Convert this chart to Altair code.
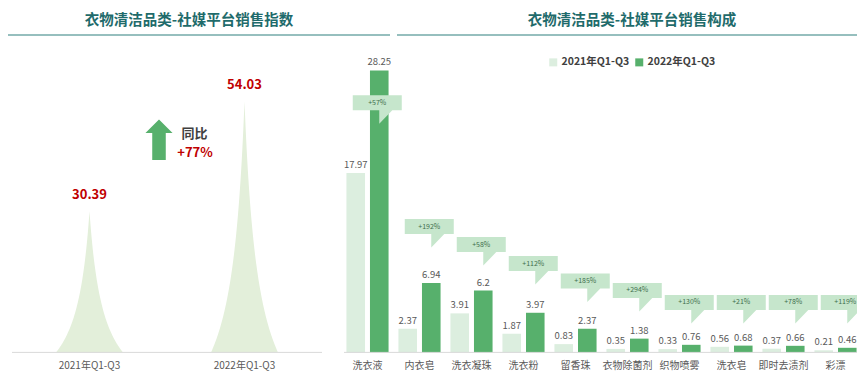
import altair as alt
import pandas as pd

# ---------------- data ----------------
periods = ["2021年Q1-Q3", "2022年Q1-Q3"]
index_values = [30.39, 54.03]
yoy_label = "+77%"

categories = ["洗衣液", "内衣皂", "洗衣凝珠", "洗衣粉", "留香珠",
              "衣物除菌剂", "织物喷雾", "洗衣皂", "即时去渍剂", "彩漂"]
sales_2021 = [17.97, 2.37, 3.91, 1.87, 0.83, 0.35, 0.33, 0.56, 0.37, 0.21]
sales_2022 = [28.25, 6.94, 6.2, 3.97, 2.37, 1.38, 0.76, 0.68, 0.66, 0.46]
growth_labels = ["+57%", "+192%", "+58%", "+112%", "+185%",
                 "+294%", "+130%", "+21%", "+78%", "+119%"]
callout_levels = [22.9, 10.5, 8.7, 6.8, 5.05, 4.1, 2.9, 2.9, 2.9, 2.9]

left_title = "衣物清洁品类-社媒平台销售指数"
right_title = "衣物清洁品类-社媒平台销售构成"

# ---------------- styling ----------------
FONT = "Noto Sans CJK SC"
W, H = 849, 364
TEAL_TEXT = "#1f6b6b"
TEAL_LINE = "#73aaa8"
RED = "#c00000"
LIGHT = "#dceedf"
DARK = "#57b06c"
SPIKE = "#e3efda"
CALLOUT = "#c6e6cc"
GREY = "#595959"
BASE = "#d9d9d9"
BASE_Y = 344.4
LABEL_Y = 358

# ---------------- left panel (spike shapes) ----------------
HW = 0.216   # half base width in category units
K = 2.4      # concavity of the spike sides
steps = 60
rows = []
for i, (p, v) in enumerate(zip(periods, index_values)):
    for side in (-1, 1):
        for s in range(steps + 1):
            u = s / steps
            rows.append({"period": p, "x": i + side * u * HW,
                         "y": v * (1 - u) / (1 + K * u)})
spike_df = pd.DataFrame(rows)
left_df = pd.DataFrame({"period": periods, "idx": list(range(len(periods))),
                        "value": index_values})

LPX = 4.646  # px per index point
lx_scale = alt.Scale(domain=[-0.5258, -0.5258 + W / 155.0], nice=False, zero=False)
ly_scale = alt.Scale(domain=[-(H - BASE_Y) / LPX, BASE_Y / LPX], nice=False, zero=False)

spikes = alt.Chart(spike_df).mark_area(color=SPIKE, opacity=1).encode(
    x=alt.X("x:Q", scale=lx_scale, axis=None),
    y=alt.Y("y:Q", scale=ly_scale, axis=None),
    y2=alt.datum(0),
    detail="period:N",
)
left_base = alt.Chart(pd.DataFrame({"a": [-0.5], "b": [len(periods) - 0.5]})).mark_rule(
    color=BASE, strokeWidth=1
).encode(x=alt.X("a:Q", scale=lx_scale, axis=None), x2="b:Q",
         y=alt.Y("z:Q", scale=ly_scale, axis=None)).transform_calculate(z="0")
left_vals = alt.Chart(left_df).mark_text(
    font=FONT, fontSize=13, fontWeight="bold", color=RED, baseline="bottom", dy=-9
).encode(x=alt.X("idx:Q", scale=lx_scale, axis=None),
         y=alt.Y("value:Q", scale=ly_scale, axis=None),
         text="value:N")
left_cats = alt.Chart(left_df).mark_text(
    font=FONT, fontSize=10, color=GREY, baseline="middle"
).encode(x=alt.X("idx:Q", scale=lx_scale, axis=None),
         y=alt.value(LABEL_Y), text="period:N")
left = alt.layer(spikes, left_base, left_vals, left_cats)

# ---------------- right panel (grouped bars) ----------------
bar_df = pd.DataFrame({
    "cat": categories * 2,
    "series": [periods[0]] * len(categories) + [periods[1]] * len(categories),
    "value": sales_2021 + sales_2022,
})
call_df = pd.DataFrame({"cat": categories, "series": [periods[1]] * len(categories),
                        "level": callout_levels, "label": growth_labels})

RPX = 9.982  # px per sales unit
rx_scale = alt.Scale(domain=categories, range=[333.5, 853.5], paddingInner=0, paddingOuter=0)
rxo_scale = alt.Scale(domain=periods, paddingInner=0.21, paddingOuter=0.21)
ry_scale = alt.Scale(domain=[-(H - BASE_Y) / RPX, BASE_Y / RPX], nice=False, zero=False)

rx = alt.X("cat:N", scale=rx_scale, axis=None, sort=categories)
rxo = alt.XOffset("series:N", scale=rxo_scale, sort=periods)

bars = alt.Chart(bar_df).mark_bar().encode(
    x=rx, xOffset=rxo,
    y=alt.Y("value:Q", scale=ry_scale, axis=None),
    color=alt.Color("series:N", scale=alt.Scale(domain=periods, range=[LIGHT, DARK]),
                    legend=alt.Legend(title=None)),
)
bar_vals = alt.Chart(bar_df).mark_text(
    font=FONT, fontSize=9.5, color=GREY, baseline="bottom", dy=-3
).encode(x=rx, xOffset=rxo, y=alt.Y("value:Q", scale=ry_scale, axis=None),
         text="value:N")

CALLOUT_PATH = ("M0,0 L0,-0.54 L-1.06,-0.54 L-1.06,-1.14 L0.90,-1.14 "
                "L0.90,-0.54 L0.52,-0.54 Z")
callouts = alt.Chart(call_df).mark_point(
    shape=CALLOUT_PATH, size=2500, filled=True, color=CALLOUT, opacity=1, strokeWidth=0
).encode(x=rx, xOffset=rxo, y=alt.Y("level:Q", scale=ry_scale, axis=None))
call_text = alt.Chart(call_df).mark_text(
    font=FONT, fontSize=7, color="#3f6e4c", baseline="middle", dx=-2, dy=-21
).encode(x=rx, xOffset=rxo, y=alt.Y("level:Q", scale=ry_scale, axis=None),
         text="label:N")
right_cats = alt.Chart(pd.DataFrame({"cat": categories})).mark_text(
    font=FONT, fontSize=10, color=GREY, baseline="middle"
).encode(x=rx, y=alt.value(LABEL_Y), text="cat:N")
right_base = alt.Chart(pd.DataFrame({"d": [0]})).mark_rule(color=BASE, strokeWidth=1).encode(
    x=alt.value(336), x2=alt.value(W), y=alt.value(BASE_Y))
right = alt.layer(bars, right_base, bar_vals, callouts, call_text, right_cats)

# ---------------- decorations (titles, arrow) ----------------
one = pd.DataFrame({"d": [0]})
t_left = alt.Chart(one).mark_text(
    text=left_title, font=FONT, fontSize=14.5, fontWeight="bold", color=TEAL_TEXT,
    baseline="middle").encode(x=alt.value(181), y=alt.value(13))
t_right = alt.Chart(one).mark_text(
    text=right_title, font=FONT, fontSize=14.5, fontWeight="bold", color=TEAL_TEXT,
    baseline="middle").encode(x=alt.value(624), y=alt.value(13))
line_left = alt.Chart(one).mark_rule(color=TEAL_LINE, strokeWidth=1.5).encode(
    x=alt.value(0), x2=alt.value(382), y=alt.value(27))
line_right = alt.Chart(one).mark_rule(color=TEAL_LINE, strokeWidth=1.5).encode(
    x=alt.value(389), x2=alt.value(W), y=alt.value(27))
ARROW_PATH = ("M0,-1 L0.667,-0.333 L0.333,-0.333 L0.333,1 L-0.333,1 "
              "L-0.333,-0.333 L-0.667,-0.333 Z")
arrow = alt.Chart(one).mark_point(
    shape=ARROW_PATH, size=1650, filled=True, color=DARK, opacity=1, strokeWidth=0
).encode(x=alt.value(151), y=alt.value(131.7))
yoy_head = alt.Chart(one).mark_text(
    text="同比", font=FONT, fontSize=13, fontWeight="bold", color="#404040",
    baseline="middle").encode(x=alt.value(186.5), y=alt.value(126))
yoy_val = alt.Chart(one).mark_text(
    text=yoy_label, font=FONT, fontSize=13, fontWeight="bold", color=RED,
    baseline="middle").encode(x=alt.value(187), y=alt.value(145))
deco = alt.layer(line_left, line_right, t_left, t_right, arrow, yoy_head, yoy_val)

chart = alt.layer(left, right, deco).resolve_scale(
    x="independent", y="independent"
).properties(
    width=W, height=H, padding=0, autosize=alt.AutoSizeParams(type="none")
).configure_view(stroke=None).configure_legend(
    orient="none", legendX=540, legendY=49, direction="horizontal",
    symbolType="square", symbolSize=64, symbolStrokeWidth=0,
    labelFont=FONT, labelFontSize=10.5, labelFontWeight="bold", labelColor="#404040",
    columnPadding=4, labelOffset=3,
)

chart.save("out.html", embed_options={"renderer": "svg", "actions": False})
